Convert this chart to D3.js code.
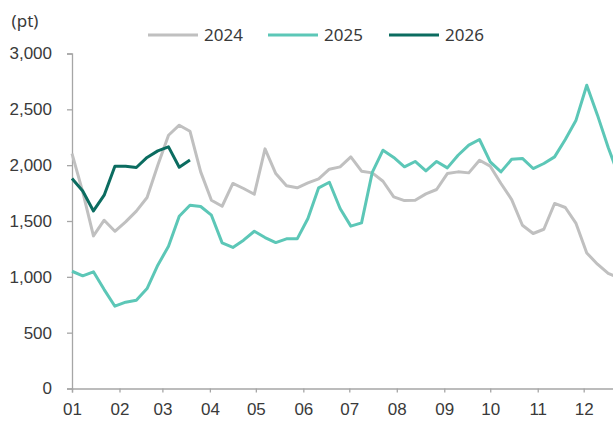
<!DOCTYPE html>
<html><head><meta charset="utf-8">
<script src="https://cdn.jsdelivr.net/npm/d3@7"></script>
<style>
html,body{margin:0;padding:0;background:#fff;}
svg{display:block;font-family:"Noto Sans",sans-serif;}
</style></head>
<body><svg id="chart" width="613" height="423"></svg>
<script>
// Month tick labels
const monthLabels = ["01","02","03","04","05","06","07","08","09","10","11","12"];
// Series (weekly values, pt)
const seriesNames = ["2024","2025","2026"];
const v2024 = [2104,1760,1367,1507,1408,1492,1588,1710,2000,2268,2358,2304,1940,
               1686,1632,1836,1791,1740,2146,1925,1815,1797,1841,1877,1964,1985,
               2074,1946,1931,1856,1716,1683,1686,1743,1782,1925,1940,1931,2044,
               1991,1836,1692,1462,1388,1426,1657,1621,1478,1214,1113,1030,990];
const v2025 = [1050,1009,1045,886,737,773,791,895,1104,1274,1543,1641,1630,
               1552,1304,1263,1328,1408,1352,1307,1340,1340,1522,1797,1847,1612,
               1454,1483,1935,2134,2069,1985,2033,1949,2033,1976,2089,2179,2230,
               2029,1940,2053,2060,1970,2015,2074,2230,2403,2716,2448,2158,1900];
const v2026 = [1880,1768,1590,1731,1991,1991,1979,2069,2128,2164,1982,2047];
const yTicks = [0,500,1000,1500,2000,2500,3000];
const colors = ["#c0c0c0","#5cc7b7","#0b6c60"];

const svg = d3.select("#chart");
const start = new Date(2025,0,1);
const end = new Date(2025,11,31);
const weekDate = i => d3.timeDay.offset(start, 7*i);

const x = d3.scaleTime().domain([start,end]).range([72, 72 + 364*1.532]);
const y = d3.scaleLinear().domain([0,3000]).range([388.5,53.5]);

const axisColor = "#a6a6a6", textColor = "#3a3a3a";

// Y axis
const yAxis = d3.axisLeft(y).tickValues(yTicks).tickSize(5).tickPadding(15)
  .tickFormat(d3.format(","));
const gy = svg.append("g").attr("transform","translate(72,0)").call(yAxis);
gy.select(".domain").attr("stroke",axisColor).attr("stroke-width",1.3);
gy.selectAll(".tick line").attr("stroke",axisColor).attr("stroke-width",1.3);
gy.selectAll(".tick text").attr("fill",textColor).style("font-size","17px");

// X axis
const months = d3.range(12).map(m => new Date(2025,m,1));
const xAxis = d3.axisBottom(x).tickValues(months).tickSize(4).tickPadding(10)
  .tickFormat((d,i) => monthLabels[i]);
const gx = svg.append("g").attr("transform","translate(0,388.5)").call(xAxis);
gx.select(".domain").attr("stroke",axisColor).attr("stroke-width",1.3);
gx.selectAll(".tick line").attr("stroke",axisColor).attr("stroke-width",1.3);
gx.selectAll(".tick text").attr("fill",textColor).style("font-size","17px");

// Lines
const line = d3.line().x((d,i) => x(weekDate(i))).y(d => y(d));
[v2024,v2025,v2026].forEach((vals,k) => {
  svg.append("path").datum(vals).attr("d",line)
    .attr("fill","none").attr("stroke",colors[k]).attr("stroke-width",3)
    .attr("stroke-linejoin","round");
});

// Unit label
svg.append("text").attr("x",25).attr("y",27).attr("text-anchor","middle")
  .attr("fill",textColor).style("font-size","17px").text("(pt)");

// Legend
const legX = [148,268,389];
seriesNames.forEach((n,k) => {
  const g = svg.append("g").attr("transform",`translate(${legX[k]},35)`);
  g.append("line").attr("x1",0).attr("x2",50).attr("y1",0).attr("y2",0)
    .attr("stroke",colors[k]).attr("stroke-width",3);
  g.append("text").attr("x",56).attr("y",0).attr("dy","0.35em")
    .attr("fill",textColor).style("font-size","17px").text(n);
});
</script></body></html>
